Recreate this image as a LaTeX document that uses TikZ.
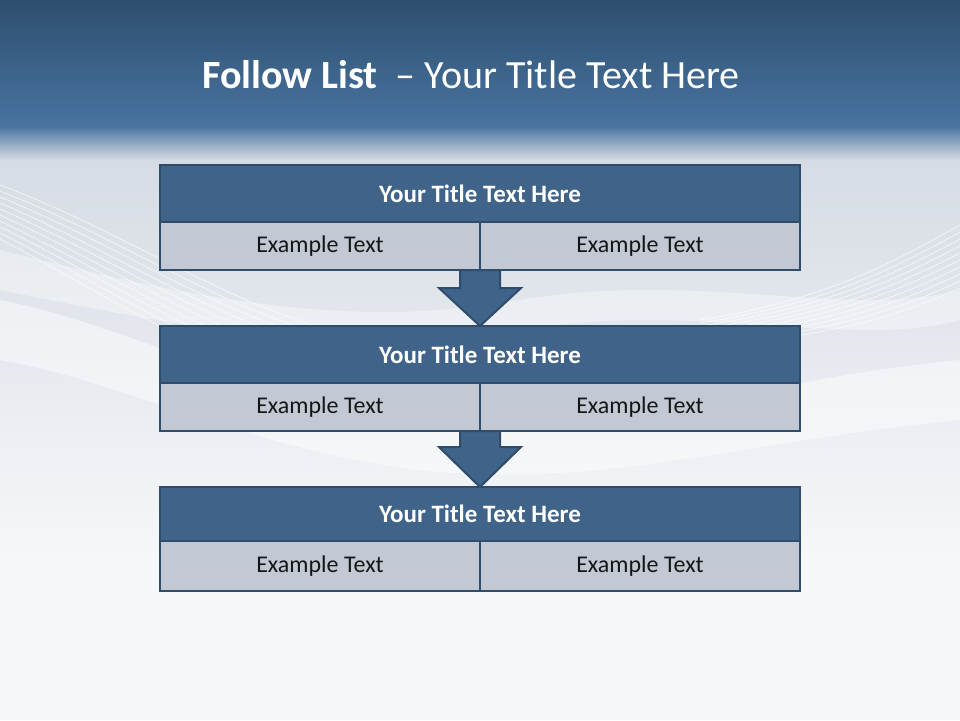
\documentclass[tikz,border=0pt]{standalone}
\usepackage{fontspec}
\setmainfont{Carlito}
\usetikzlibrary{calc}
\definecolor{bgtop}{HTML}{2E4E6E}
\definecolor{bgmid}{HTML}{4874A0}
\definecolor{bglight}{HTML}{D6DCE4}
\definecolor{bgpale}{HTML}{F6F7FA}
\definecolor{edge}{HTML}{2F4C6B}
\definecolor{titlefill}{HTML}{3F6389}
\definecolor{rowfill}{HTML}{C2C9D4}
\definecolor{rowtext}{HTML}{161616}
\tikzset{
  boxtitle/.style={draw=edge, line width=2.6pt, fill=titlefill, text=white,
    font=\fontsize{25}{30}\selectfont\bfseries, minimum width=640pt, minimum height=57pt,
    inner sep=0pt, outer sep=0pt},
  rowcell/.style={draw=edge, line width=2.6pt, fill=rowfill, text=rowtext,
    font=\fontsize{24}{29}\selectfont, minimum width=320pt, minimum height=48pt,
    inner sep=0pt, outer sep=0pt},
  blockarrow/.style={draw=edge, line width=2pt, fill=titlefill, line join=miter},
  wave/.style={white, line width=0.6pt, opacity=0.75}
}
\begin{document}
\begin{tikzpicture}[x=1pt,y=-1pt]
\useasboundingbox (0,0) rectangle (960,720);
% background
\shade[top color=bgtop, bottom color=bgmid] (0,0) rectangle (960,126);
\shade[top color=bgmid, bottom color=bglight] (0,126) rectangle (960,160);
\shade[top color=bglight, bottom color=bgpale] (0,160) rectangle (960,560);
\fill[bgpale] (0,560) rectangle (960,720);
% soft swooshes
\fill[white, opacity=0.45] (0,300) .. controls (150,330) and (300,420) .. (460,430)
  .. controls (600,440) and (750,380) .. (960,360) -- (960,420)
  .. controls (750,440) and (600,490) .. (420,470) .. controls (250,450) and (120,380) .. (0,360) -- cycle;
\fill[white, opacity=0.35] (0,250) .. controls (200,300) and (350,330) .. (520,300)
  .. controls (700,270) and (850,320) .. (960,290) -- (960,320)
  .. controls (850,350) and (700,300) .. (520,330) .. controls (350,360) and (200,330) .. (0,290) -- cycle;
\foreach \i in {0,...,9}{
  \draw[wave] (0,{185+6*\i}) .. controls (120,{230+8*\i}) and (220,{300+8*\i}) .. (330,{330+6*\i});
  \draw[wave] (960,{225+7*\i}) .. controls (880,{270+6*\i}) and (820,{300+4*\i}) .. (700,{320+3*\i});
}
% main title
\node (title) at (471,75) {\color{white}\fontsize{40}{48}\selectfont\textbf{Follow List}\ \ – Your Title Text Here};
% block arrows (under the boxes)
\coordinate (a1top) at (480,270);
\coordinate (a1tip) at (480,326);
\coordinate (a2top) at (480,431);
\coordinate (a2tip) at (480,487);
\draw[blockarrow] ($(a1top)+(-20,0)$) -- ($(a1top)+(-20,18)$) -- ($(a1top)+(-41,18)$) -- (a1tip)
  -- ($(a1top)+(41,18)$) -- ($(a1top)+(20,18)$) -- ($(a1top)+(20,0)$) -- cycle;
\draw[blockarrow] ($(a2top)+(-20,0)$) -- ($(a2top)+(-20,16)$) -- ($(a2top)+(-41,16)$) -- (a2tip)
  -- ($(a2top)+(41,16)$) -- ($(a2top)+(20,16)$) -- ($(a2top)+(20,0)$) -- cycle;
% box 1
\node[boxtitle] (t1) at (480,193.5) {Your Title Text Here};
\node[rowcell] (l1) at (320,246) {Example Text};
\node[rowcell] (r1) at (640,246) {Example Text};
% box 2
\node[boxtitle] (t2) at (480,354.5) {Your Title Text Here};
\node[rowcell] (l2) at (320,407) {Example Text};
\node[rowcell] (r2) at (640,407) {Example Text};
% box 3
\node[boxtitle, minimum height=54pt] (t3) at (480,514) {Your Title Text Here};
\node[rowcell, minimum height=50pt] (l3) at (320,566) {Example Text};
\node[rowcell, minimum height=50pt] (r3) at (640,566) {Example Text};
\end{tikzpicture}
\end{document}
